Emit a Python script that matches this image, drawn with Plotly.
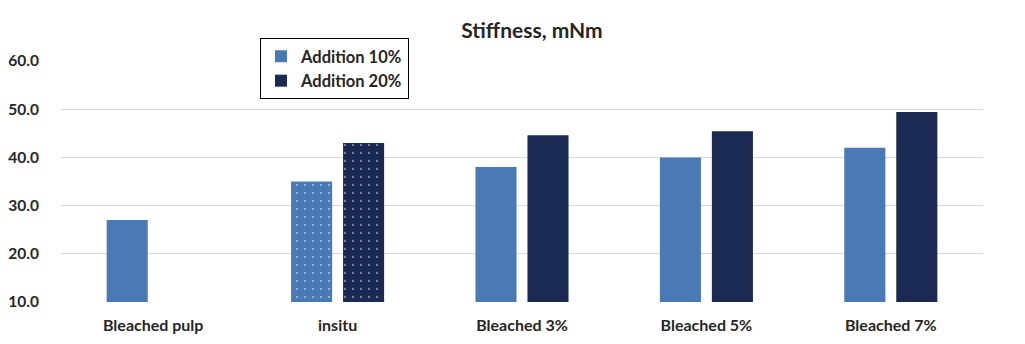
import plotly.graph_objects as go

categories = ["Bleached pulp", "insitu", "Bleached 3%", "Bleached 5%", "Bleached 7%"]
addition_10 = [27.0, 35.0, 38.0, 40.0, 42.0]
addition_20 = [None, 43.0, 44.6, 45.4, 49.4]
patterns = ["", ".", "", "", ""]
y_ticks = [10, 20, 30, 40, 50, 60]

C10 = "#4A7AB5"
C20 = "#1B2A52"
FONT = "Lato"
TXT = "#262626"

fig = go.Figure()
fig.add_trace(go.Bar(
    x=categories, y=addition_10, name="<b>Addition 10%</b>", legendgroup="a",
    marker=dict(color=C10, line=dict(width=0),
                pattern=dict(shape=patterns, fgcolor="white", size=8, solidity=0.06)),
))
fig.add_trace(go.Bar(
    x=categories, y=addition_20, name="<b>Addition 20%</b>", legendgroup="b",
    marker=dict(color=C20, line=dict(width=0),
                pattern=dict(shape=patterns, fgcolor="white", size=8, solidity=0.06)),
))

fig.update_layout(
    width=1025, height=344,
    margin=dict(l=61, r=42, t=61, b=42, autoexpand=False),
    paper_bgcolor="white", plot_bgcolor="white",
    barmode="group", bargap=0.436, bargroupgap=0.21,
    font=dict(family=FONT, color=TXT, size=15),
    title=dict(text="<b>Stiffness, mNm</b>", x=0.519, xanchor="center",
               y=0.91, yanchor="middle", font=dict(size=21, family=FONT, color=TXT)),
    legend=dict(xref="container", yref="container",
                x=260 / 1025, xanchor="left", y=1 - 38 / 344, yanchor="top",
                bordercolor="black", borderwidth=1, bgcolor="white",
                tracegroupgap=0, font=dict(size=16.5, family=FONT, color=TXT),
                traceorder="normal"),
    showlegend=True,
)
fig.update_xaxes(
    tickvals=categories, ticktext=[f"<b>{c}</b>" for c in categories],
    tickfont=dict(size=16, family=FONT, color=TXT),
    ticks="outside", ticklen=9, tickcolor="rgba(0,0,0,0)",
    showline=False, showgrid=False,
)
fig.update_yaxes(
    range=[10, 60], tickvals=y_ticks, ticktext=[f"<b>{v:.1f}</b>" for v in y_ticks],
    tickfont=dict(size=15.5, family=FONT, color=TXT),
    ticks="outside", ticklen=18, tickcolor="rgba(0,0,0,0)",
    showgrid=True, gridcolor="#D9D9D9", gridwidth=1,
    zeroline=False, showline=False,
)

fig.write_html("out.html")
